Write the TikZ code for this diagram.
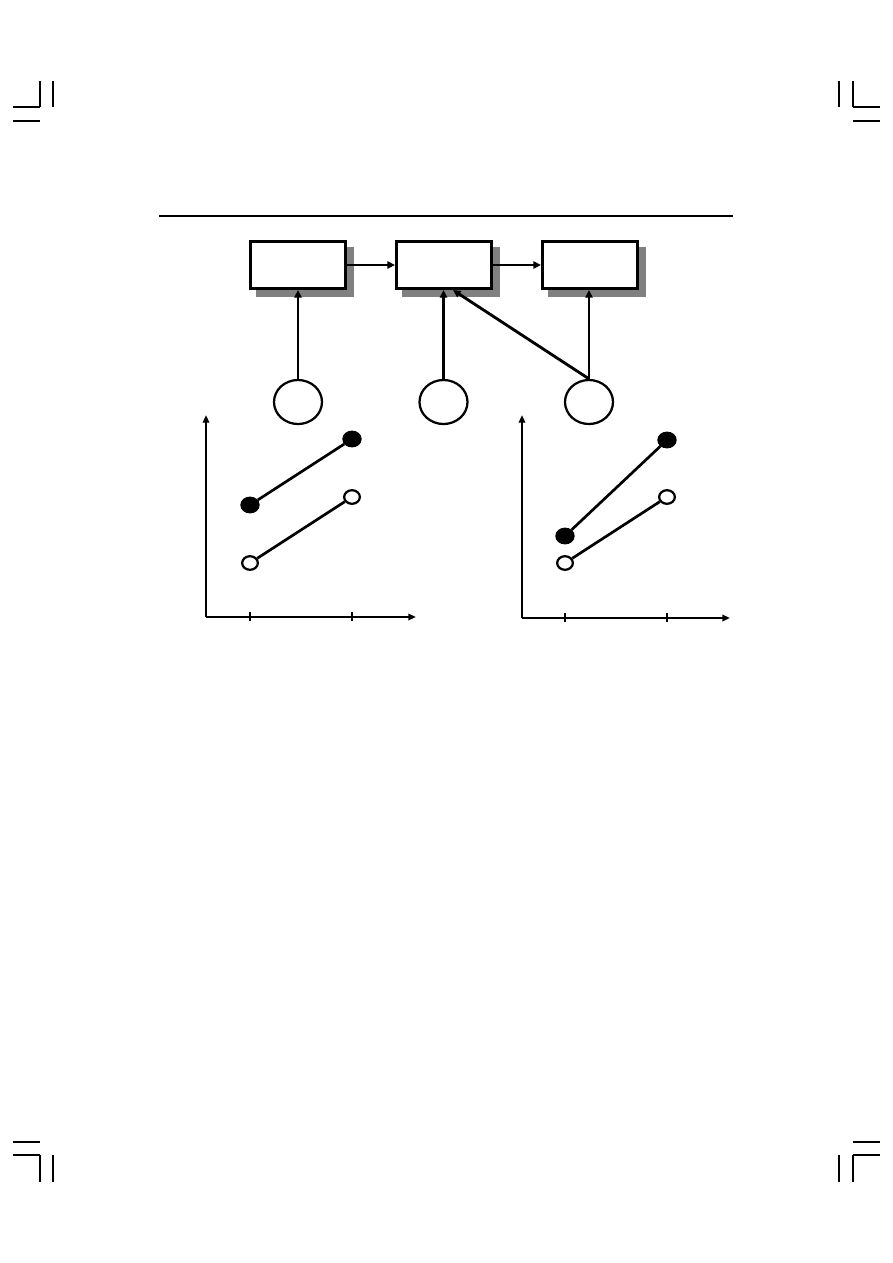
\documentclass[tikz,border=0pt]{standalone}
\usepackage{xcolor}
\usepackage{tikz}
\usetikzlibrary{arrows.meta, shapes.geometric, calc}
\definecolor{ink}{HTML}{000000}
\definecolor{shade}{HTML}{808080}
\tikzset{
  stage/.style    = {rectangle, draw=ink, line width=2pt, fill=white,
                     minimum width=2.234cm, minimum height=1.105cm, inner sep=0pt,
                     preaction={draw=shade, fill=shade, line width=2pt,
                                transform canvas={xshift=0.153cm, yshift=-0.153cm}}},
  factor/.style   = {ellipse, draw=ink, line width=1.5pt, fill=white,
                     minimum width=1.129cm, minimum height=1.035cm, inner sep=0pt},
  solid pt/.style = {ellipse, draw=ink, fill=ink, line width=1pt,
                     minimum width=0.42cm, minimum height=0.36cm, inner sep=0pt},
  open pt/.style  = {ellipse, draw=ink, fill=white, line width=1.5pt,
                     minimum width=0.37cm, minimum height=0.32cm, inner sep=0pt},
  ar/.style       = {-{Triangle[length=1.8mm,width=1.7mm]}, line width=1.9pt, draw=ink},
  axis/.style     = {-{Triangle[length=1.8mm,width=1.5mm]}, line width=1.7pt, draw=ink},
  link/.style     = {line width=1.8pt, draw=ink},
  crop/.style     = {line width=0.7pt, draw=ink},
}

\begin{document}
\begin{tikzpicture}[x=0.02352cm, y=-0.02352cm]
  \useasboundingbox (0,0) rectangle (893,1263);

  % ----- crop marks -----
  \foreach \sx/\ex/\vx/\vy in {13/40/40/53, 853/880/853/839}
    {\draw[crop] (\sx,107) -- (\ex,107);
     \draw[crop] (\sx,121) -- (\ex,121);
     \draw[crop] (\vx,81) -- (\vx,107);
     \draw[crop] (\vy,81) -- (\vy,107);
     \draw[crop] (\sx,1142) -- (\ex,1142);
     \draw[crop] (\sx,1155) -- (\ex,1155);
     \draw[crop] (\vx,1155) -- (\vx,1182);
     \draw[crop] (\vy,1155) -- (\vy,1182);}

  % rule
  \draw[line width=1.4pt] (159,216) -- (733,216);

  % ----- stages -----
  \node[stage] (b1) at (298,265) {};
  \node[stage] (b2) at (444,265) {};
  \node[stage] (b3) at (590,265) {};
  \draw[ar] (b1) -- (b2);
  \draw[ar] (b2) -- (b3);

  % ----- factors -----
  \node[factor] (c1) at (298,402) {};
  \node[factor] (c2) at (443.5,402) {};
  \node[factor] (c3) at (589,402) {};
  \draw[ar] (c1.north) -- (c1.north |- b1.south);
  \draw[ar] (c2.north) -- (c2.north |- b2.south);
  \draw[ar] (c3.north) -- (c3.north |- b3.south);
  \draw[ar] (c3.north) -- ([xshift=0.21cm]b2.south);

  % ----- left plot -----
  \coordinate (o1) at (206,617);
  \draw[axis] (o1) -- (206,415);
  \draw[axis] (o1) -- (416,617);
  \foreach \t in {250,352} {\draw[line width=1.7pt] (\t,612) -- (\t,621);}
  \node[solid pt] (sa1) at (250,505) {};
  \node[solid pt] (sb1) at (352,439) {};
  \node[open pt]  (oa1) at (250,563) {};
  \node[open pt]  (ob1) at (352,497) {};
  \draw[link] (sa1) -- (sb1);
  \draw[link] (oa1) -- (ob1);

  % ----- right plot -----
  \coordinate (o2) at (522,618);
  \draw[axis] (o2) -- (522,415);
  \draw[axis] (o2) -- (730,618);
  \foreach \t in {565,667} {\draw[line width=1.7pt] (\t,613) -- (\t,622);}
  \node[solid pt] (sa2) at (565,536) {};
  \node[solid pt] (sb2) at (667,440) {};
  \node[open pt]  (oa2) at (565,563) {};
  \node[open pt]  (ob2) at (667,497) {};
  \draw[link] (sa2) -- (sb2);
  \draw[link] (oa2) -- (ob2);

\end{tikzpicture}
\end{document}
